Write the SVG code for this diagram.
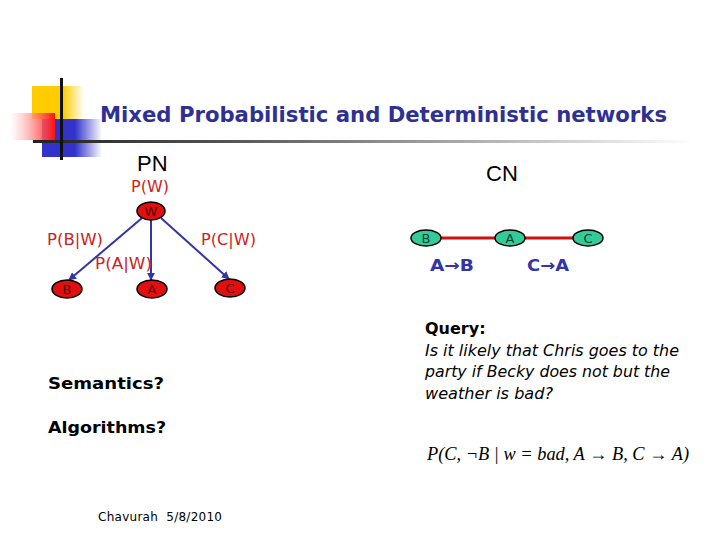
<svg xmlns="http://www.w3.org/2000/svg" width="720" height="540" viewBox="0 0 720 540">
<defs>
<linearGradient id="gy" x1="0" y1="0" x2="1" y2="0"><stop offset="0" stop-color="#FFCC00"/><stop offset="0.6" stop-color="#FFCC00"/><stop offset="1" stop-color="#FFFFFF"/></linearGradient>
<linearGradient id="gb" x1="0" y1="0" x2="1" y2="0"><stop offset="0" stop-color="#3333CC"/><stop offset="0.55" stop-color="#3333CC"/><stop offset="1" stop-color="#FFFFFF"/></linearGradient>
<linearGradient id="gr" x1="0" y1="0" x2="1" y2="0"><stop offset="0" stop-color="#FFFFFF" stop-opacity="0.5"/><stop offset="1" stop-color="#FF1111"/></linearGradient>
<linearGradient id="gl" x1="0" y1="0" x2="1" y2="0"><stop offset="0" stop-color="#222222"/><stop offset="0.3" stop-color="#555555"/><stop offset="1" stop-color="#FFFFFF"/></linearGradient>
<marker id="ah" viewBox="0 0 10 10" refX="9" refY="5" markerWidth="4" markerHeight="4" orient="auto"><path d="M0,0 L10,5 L0,10 z" fill="#3333AA"/></marker>
</defs>
<style>
.pn{fill:#E01010;stroke:#000;stroke-width:1.5}
.cn{fill:#33CC99;stroke:#000;stroke-width:1.5}
.nl{font-family:"DejaVu Sans",sans-serif;font-size:13px;text-anchor:middle;fill:#550000}
.cl{font-family:"DejaVu Sans",sans-serif;font-size:13px;text-anchor:middle;fill:#004433}
.pl{font-family:"DejaVu Sans",sans-serif;font-size:15px;fill:#CC2222}
.edge{stroke:#3333AA;stroke-width:2;fill:none;marker-end:url(#ah)}
.hd{font-family:"Liberation Sans",Arial,sans-serif;font-size:22px;fill:#000}
.q{font-family:"DejaVu Sans",sans-serif;font-size:15px;font-style:italic;fill:#000}
.bk{font-family:"DejaVu Sans",sans-serif;font-weight:bold;font-size:16px;fill:#000}
.imp{font-family:"DejaVu Sans",sans-serif;font-weight:bold;font-size:16px;fill:#3333AA}
</style>
<rect width="720" height="540" fill="#FFFFFF"/>
<g id="decor">
<rect x="32" y="86" width="52" height="33" fill="url(#gy)"/>
<rect x="42" y="119" width="60" height="38" fill="url(#gb)"/>
<rect x="10" y="113" width="45" height="27" fill="url(#gr)"/>
<rect x="33" y="140" width="660" height="3" fill="url(#gl)"/>
<rect x="60" y="78" width="3" height="82" fill="#111111"/>
</g>
<text x="100" y="122" font-family="DejaVu Sans,sans-serif" font-weight="bold" font-size="21" fill="#2E3192" textLength="567" lengthAdjust="spacingAndGlyphs">Mixed Probabilistic and Deterministic networks</text>
<text class="hd" x="137" y="171">PN</text>
<text class="hd" x="486" y="181">CN</text>
<g id="connectors">
<line class="edge" x1="142" y1="218" x2="69" y2="280"/>
<line class="edge" x1="151" y1="220" x2="151" y2="280"/>
<line class="edge" x1="161" y1="218" x2="229" y2="279"/>
<line x1="440" y1="238" x2="496" y2="238" stroke="#CC1111" stroke-width="3"/>
<line x1="524" y1="238" x2="574" y2="238" stroke="#CC1111" stroke-width="3"/>
</g>
<g id="W"><ellipse class="pn" cx="151" cy="211" rx="14" ry="9"/><text class="nl" x="151" y="216">W</text></g>
<g id="B"><ellipse class="pn" cx="67" cy="289" rx="15" ry="9"/><text class="nl" x="67" y="294">B</text></g>
<g id="A"><ellipse class="pn" cx="152" cy="289" rx="15" ry="9"/><text class="nl" x="152" y="294">A</text></g>
<g id="C"><ellipse class="pn" cx="230" cy="288" rx="15" ry="9"/><text class="nl" x="230" y="293">C</text></g>
<text class="pl" x="131" y="192" textLength="38" lengthAdjust="spacingAndGlyphs">P(W)</text>
<text class="pl" x="47" y="245" textLength="56" lengthAdjust="spacingAndGlyphs">P(B|W)</text>
<text class="pl" x="201" y="245" textLength="55" lengthAdjust="spacingAndGlyphs">P(C|W)</text>
<text class="pl" x="95" y="269" textLength="57" lengthAdjust="spacingAndGlyphs">P(A|W)</text>
<g id="CB"><ellipse class="cn" cx="426" cy="238" rx="15" ry="8"/><text class="cl" x="426" y="243">B</text></g>
<g id="CA"><ellipse class="cn" cx="510" cy="238" rx="15" ry="8"/><text class="cl" x="510" y="243">A</text></g>
<g id="CC"><ellipse class="cn" cx="588" cy="238" rx="15" ry="8"/><text class="cl" x="588" y="243">C</text></g>
<text class="imp" x="430" y="271" textLength="44" lengthAdjust="spacingAndGlyphs">A→B</text>
<text class="imp" x="527" y="271" textLength="42" lengthAdjust="spacingAndGlyphs">C→A</text>
<text class="bk" x="425" y="334">Query:</text>
<text class="q" x="425" y="356" textLength="254" lengthAdjust="spacingAndGlyphs">Is it likely that Chris goes to the</text>
<text class="q" x="425" y="377" textLength="245" lengthAdjust="spacingAndGlyphs">party if Becky does not but the</text>
<text class="q" x="425" y="399" textLength="128" lengthAdjust="spacingAndGlyphs">weather is bad?</text>
<text x="427" y="460" font-family="Liberation Serif,serif" font-style="italic" font-size="18" fill="#000" textLength="262" lengthAdjust="spacingAndGlyphs">P(C, ¬B | w = bad, A → B, C → A)</text>
<text class="bk" x="48" y="389" textLength="116" lengthAdjust="spacingAndGlyphs">Semantics?</text>
<text class="bk" x="48" y="433" textLength="118" lengthAdjust="spacingAndGlyphs">Algorithms?</text>
<text x="98" y="521" font-family="DejaVu Sans,sans-serif" font-size="12" fill="#000" xml:space="preserve" textLength="124" lengthAdjust="spacing">Chavurah  5/8/2010</text>
</svg>
